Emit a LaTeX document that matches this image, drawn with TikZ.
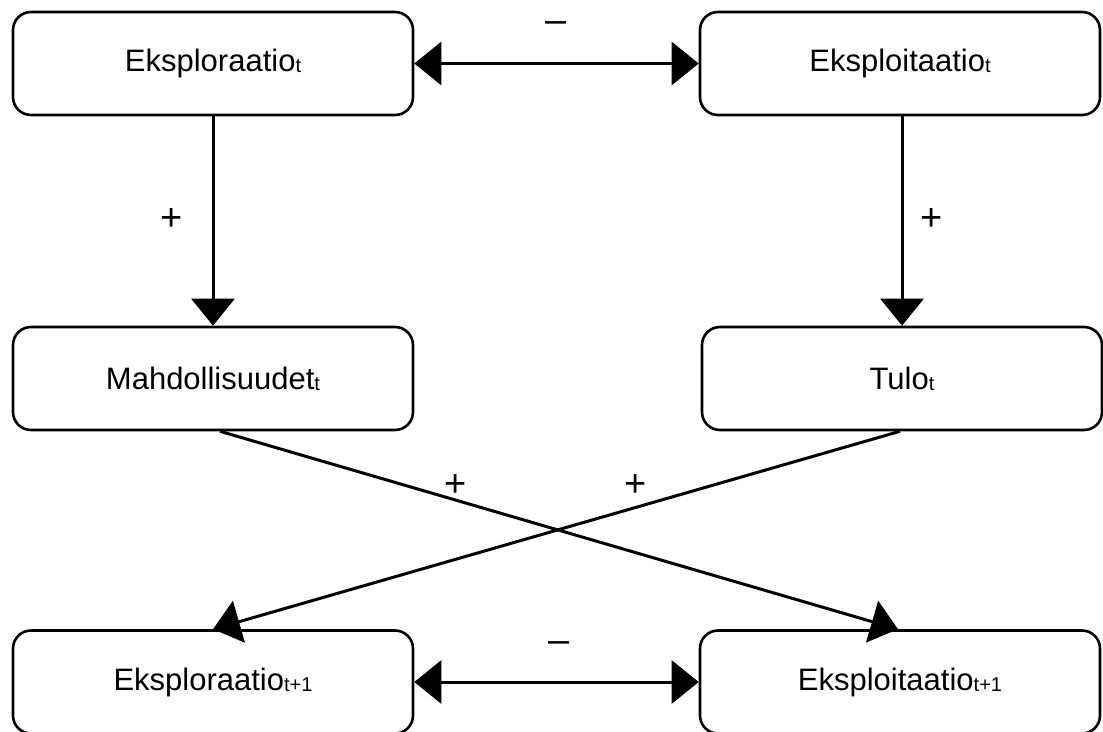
\documentclass[tikz,border=0pt]{standalone}
\usepackage{fontspec}
\setmainfont{Liberation Sans}
\usetikzlibrary{arrows.meta}

\newcommand{\sub}[1]{\raisebox{-1pt}{\fontsize{20}{20}\selectfont #1}}

\tikzset{
  box/.style={draw, line width=2.6pt, rounded corners=18pt,
    minimum width=400pt, minimum height=103pt, inner sep=0pt,
    font=\fontsize{31}{31}\selectfont},
  link/.style={line width=3pt, -{Triangle[length=27pt,width=43pt]}},
  duo/.style={line width=3pt, {Triangle[length=27pt,width=43pt]}-{Triangle[length=27pt,width=43pt]}},
  sign/.style={inner sep=0pt, font=\fontsize{38}{38}\selectfont},
  dashsign/.style={sign, anchor=base, text height=14pt, text depth=0pt}
}

\begin{document}
\begin{tikzpicture}[x=1pt, y=-1pt]
\useasboundingbox (0,0) rectangle (1103,731);

% boxes
\node[box] (explT)  at (213,63.5)  {Eksploraatio\sub{t}\hspace{10pt}};
\node[box] (exploT) at (900,63.5)  {Eksploitaatio\sub{t}\hspace{3pt}};
\node[box] (mahd)   at (213,378.5) {Mahdollisuudet\sub{t}\hspace{10pt}};
\node[box] (tulo)   at (902,378.5) {Tulo\sub{t}\hspace{5pt}};
\node[box] (explN)  at (213,682)   {Eksploraatio\sub{t+1}\hspace{12pt}};
\node[box] (exploN) at (900,682)   {Eksploitaatio\sub{t+1}\hspace{6pt}};

% trade-off between exploration and exploitation
\draw[duo] (explT.east) -- (exploT.west);
\draw[duo] (explN.east) -- (exploN.west);

% effects within period t
\draw[link] (explT.south) -- (mahd.north);
\draw[link] (tulo.north |- exploT.south) -- (tulo.north);

% effects on period t+1
\draw[link] ([xshift=7pt]mahd.south) -- ([xshift=-2pt]exploN.north);
\draw[link] ([xshift=-2pt]tulo.south) -- (explN.north);

% signs
\node[dashsign] (m1) at (556,32)  {–};
\node[dashsign] (m2) at (559,652) {–};
\node[sign] (p1) at (172,220) {+};
\node[sign] (p2) at (932,220) {+};
\node[sign] (p3) at (456,486) {+};
\node[sign] (p4) at (636,486) {+};
\end{tikzpicture}
\end{document}
